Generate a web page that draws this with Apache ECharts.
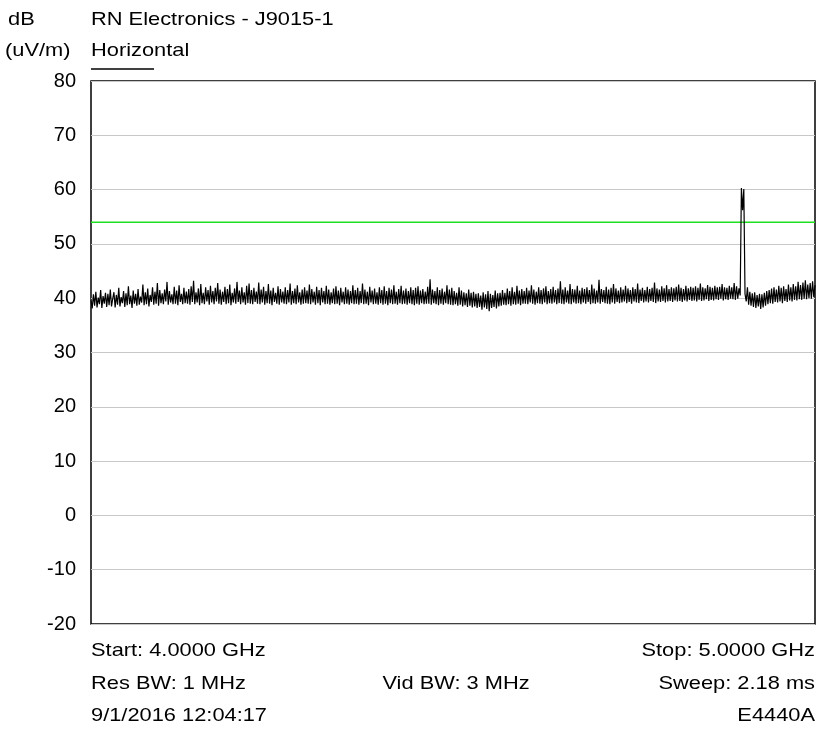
<!DOCTYPE html>
<html>
<head>
<meta charset="utf-8">
<script type="text/javascript" src="https://cdn.jsdelivr.net/npm/echarts@6/dist/echarts.min.js"></script>
<style>
    html, body { margin: 0; padding: 0; background: #fff; }
    #container { width: 818px; height: 731px; }
</style>
</head>
<body>
<div id="container"></div>
<script type="text/javascript">
    // sweep 4.0 - 5.0 GHz, 601 points (MHz)
    var freqStart = 4000;
    var freqStop = 5000;
    var limitDb = 54;
    var yTicks = { min: -20, max: 80, step: 10 };

    // trace values, dB(uV/m)
    var trace = [
        39.6,38.1,40.7,38.6,41.2,38.3,40.1,38.9,41.5,38.2,40.4,39.0,41.0,38.4,40.8,38.7,41.6,38.5,39.9,41.1,
        38.3,40.6,38.8,41.9,38.5,40.2,39.1,41.3,38.4,40.9,38.7,42.2,38.9,40.5,38.2,41.4,39.0,40.8,38.6,41.7,
        38.8,40.3,39.2,42.5,38.7,41.1,38.9,41.8,38.5,40.6,39.3,42.0,38.8,41.2,39.0,42.8,38.6,41.5,39.1,40.9,
        38.9,41.6,39.4,43.0,38.8,41.3,39.2,40.7,38.9,42.1,39.0,41.4,38.7,42.4,39.3,40.8,38.9,41.9,39.1,41.2,
        39.0,41.7,38.8,42.2,39.3,43.2,38.9,41.1,39.2,41.8,38.7,42.6,39.1,41.0,38.9,42.0,39.4,41.5,38.8,42.3,
        39.2,41.3,38.9,41.9,39.4,42.8,39.0,41.6,38.8,41.2,39.3,42.1,38.9,41.7,39.1,42.5,38.7,41.0,39.2,41.8,
        39.0,43.0,39.3,41.4,38.9,42.0,39.2,41.1,38.8,42.3,39.1,42.7,39.0,41.5,38.9,41.9,39.3,41.2,39.0,42.9,
        38.9,41.6,39.2,42.1,38.8,41.3,39.1,42.6,39.0,41.4,38.7,41.9,39.3,41.0,39.0,42.2,38.8,41.7,39.2,41.2,
        39.0,42.0,38.9,41.5,39.2,42.7,38.8,41.3,39.1,41.8,38.9,42.4,39.2,41.1,38.8,41.6,39.0,42.0,39.1,41.4,
        39.0,42.5,38.9,41.7,39.2,41.2,38.8,42.1,39.1,41.5,38.7,41.9,39.2,41.3,38.9,42.3,39.0,41.6,38.8,41.1,
        39.1,41.8,38.9,42.2,39.0,41.4,38.7,41.9,39.2,41.2,38.9,42.0,39.0,41.6,38.8,41.3,39.1,42.4,38.9,41.5,
        39.0,41.9,38.8,41.3,39.1,42.7,38.9,41.6,39.0,41.2,38.7,42.1,39.2,41.4,38.9,41.8,39.0,41.1,38.8,42.0,
        39.1,41.5,38.8,42.2,39.0,41.3,38.7,41.9,39.1,41.6,38.9,42.4,39.0,41.2,38.8,41.7,39.1,42.3,38.9,41.4,
        39.0,41.8,38.8,41.3,39.1,42.0,38.9,41.5,38.7,41.9,39.0,42.2,38.8,41.4,39.1,41.7,38.9,41.2,39.0,42.1,
        39.0,43.5,38.8,41.6,39.1,41.3,38.9,42.0,38.7,41.5,39.0,41.8,38.8,41.2,39.1,42.4,38.9,41.6,38.8,41.9,
        38.7,41.3,38.9,41.0,38.6,42.0,38.8,41.4,38.5,41.1,38.7,40.9,38.4,41.6,38.6,41.0,38.3,41.2,38.5,40.8,
        38.2,40.9,38.4,40.5,37.9,41.1,38.3,40.7,38.0,41.3,37.6,40.8,38.2,40.6,38.4,41.4,38.1,40.9,38.5,41.0,
        38.6,41.5,38.8,41.0,38.7,41.8,38.9,41.3,38.6,42.0,38.9,41.2,38.8,42.3,39.0,41.4,38.7,41.7,39.0,41.3,
        39.0,41.9,38.9,41.4,39.2,42.4,39.0,41.6,38.8,41.2,39.1,42.0,39.0,41.5,38.9,41.8,39.2,42.2,38.9,41.3,
        39.1,41.7,39.0,42.1,39.2,41.5,38.9,41.8,39.1,43.1,39.0,41.6,38.9,42.0,39.2,41.4,39.0,42.6,38.9,41.7,
        39.2,41.6,39.0,42.3,39.1,41.4,38.9,41.9,39.2,41.7,39.0,42.0,39.3,41.5,38.9,42.5,39.1,41.8,39.0,41.4,
        39.2,43.4,39.0,41.7,39.3,41.5,39.1,42.1,39.0,41.6,38.9,41.9,39.2,42.6,39.0,41.8,39.3,41.4,39.1,42.0,
        39.2,41.6,39.4,42.3,39.1,41.8,39.3,41.5,39.0,42.0,39.4,41.7,39.2,42.7,39.1,41.6,39.5,41.9,39.2,41.5,
        39.4,42.1,39.2,41.7,39.5,41.9,39.3,42.9,39.1,41.8,39.4,41.6,39.3,42.2,39.5,41.8,39.2,42.4,39.4,41.7,
        39.5,42.0,39.3,41.8,39.6,42.1,39.4,42.5,39.5,41.9,39.3,41.7,39.6,42.3,39.4,41.8,39.7,42.1,39.5,41.9,
        39.6,42.2,39.4,41.9,39.7,42.7,39.5,42.0,39.6,41.8,39.8,42.4,39.5,42.1,39.7,41.9,39.6,42.3,39.8,42.0,
        39.7,42.1,39.9,42.6,39.6,42.0,39.8,41.9,39.7,42.3,39.9,42.0,39.8,42.8,39.7,42.2,39.9,41.8,40.5,60.3,
        56.2,60.1,40.8,39.4,42.0,38.8,41.2,38.6,40.9,38.4,41.1,38.2,40.6,38.5,40.8,38.0,40.7,38.3,41.0,38.6,
        41.3,38.9,41.5,39.1,41.8,39.0,42.0,39.3,41.6,39.2,42.3,39.4,41.9,39.1,42.2,39.5,41.7,39.3,42.5,39.6,
        42.0,39.4,42.6,39.7,42.2,39.6,43.0,39.8,42.4,39.7,42.9,39.9,43.3,39.8,42.5,40.0,42.8,39.9,43.1,40.2,
        42.4
    ];

    var labelsTop = [
        { text: 'dB', x: 8, y: 20, align: 'left' },
        { text: 'RN Electronics - J9015-1', x: 91, y: 20, align: 'left' },
        { text: '(uV/m)', x: 5, y: 51, align: 'left' },
        { text: 'Horizontal', x: 91, y: 51, align: 'left' }
    ];
    var labelsBottom = [
        { text: 'Start: 4.0000 GHz', x: 91, y: 651, align: 'left' },
        { text: 'Stop: 5.0000 GHz', x: 815, y: 651, align: 'right' },
        { text: 'Res BW: 1 MHz', x: 91, y: 684, align: 'left' },
        { text: 'Vid BW: 3 MHz', x: 456, y: 684, align: 'center' },
        { text: 'Sweep: 2.18 ms', x: 815, y: 684, align: 'right' },
        { text: '9/1/2016 12:04:17', x: 91, y: 716, align: 'left' },
        { text: 'E4440A', x: 815, y: 716, align: 'right' }
    ];

    var myChart = echarts.init(document.getElementById('container'), null, { renderer: 'canvas' });

    var step = (freqStop - freqStart) / (trace.length - 1);
    var traceData = [];
    for (var i = 0; i < trace.length; i++) {
        traceData.push([freqStart + i * step, trace[i]]);
    }

    var texts = labelsTop.concat(labelsBottom).map(function (t) {
        return {
            type: 'text',
            x: t.x,
            y: t.y,
            scaleX: 1.18,
            style: {
                text: t.text,
                fill: '#000',
                font: '18.5px "Liberation Sans", Arial, sans-serif',
                textAlign: t.align,
                textVerticalAlign: 'middle'
            }
        };
    });
    // short trace-key line under the heading
    texts.push({
        type: 'line',
        shape: { x1: 91, y1: 69, x2: 154, y2: 69 },
        style: { stroke: '#000', lineWidth: 1.3 }
    });

    var option = {
        animation: false,
        backgroundColor: '#fff',
        textStyle: { fontFamily: '"Liberation Sans", Arial, sans-serif' },
        grid: {
            left: 91, right: 3, top: 81, bottom: 107,
            show: true,
            borderColor: '#000',
            borderWidth: 1.5,
            backgroundColor: 'transparent'
        },
        xAxis: {
            type: 'value',
            min: freqStart,
            max: freqStop,
            axisLine: { show: false },
            axisTick: { show: false },
            axisLabel: { show: false },
            splitLine: { show: false }
        },
        yAxis: {
            type: 'value',
            min: yTicks.min,
            max: yTicks.max,
            interval: yTicks.step,
            axisLine: { show: false },
            axisTick: { show: false },
            axisLabel: {
                color: '#000',
                fontSize: 20,
                margin: 15,
                fontFamily: '"Liberation Sans", Arial, sans-serif'
            },
            splitLine: { lineStyle: { color: '#c8c8c8', width: 1 } }
        },
        graphic: texts,
        series: [
            {
                name: 'Limit',
                type: 'line',
                data: [[freqStart, limitDb], [freqStop, limitDb]],
                symbol: 'none',
                lineStyle: { color: '#1ee01e', width: 1.5 },
                z: 2
            },
            {
                name: 'Horizontal',
                type: 'line',
                data: traceData,
                symbol: 'none',
                sampling: null,
                lineStyle: { color: '#000', width: 1.2 },
                z: 3
            }
        ]
    };

    myChart.setOption(option);
</script>
</body>
</html>
